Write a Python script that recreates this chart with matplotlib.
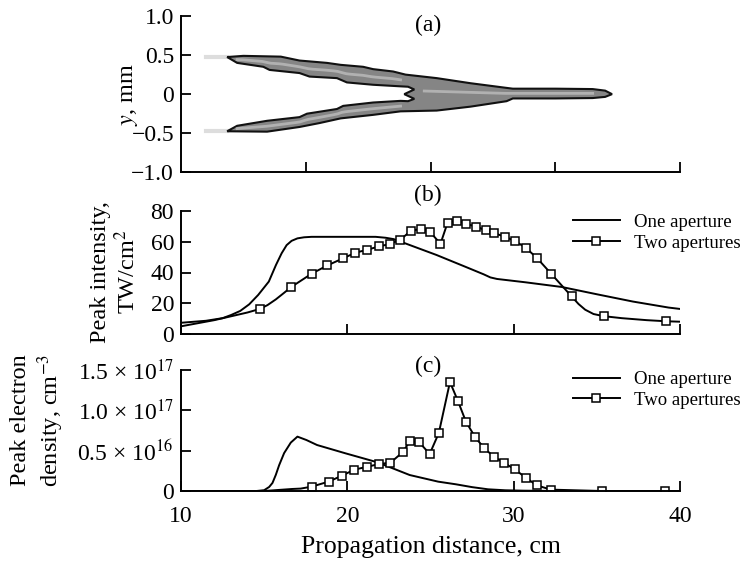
import numpy as np
import matplotlib
matplotlib.use("Agg")
import matplotlib.pyplot as plt

plt.rcParams["font.family"] = ["Liberation Serif", "DejaVu Serif"]
plt.rcParams["mathtext.fontset"] = "stix"
plt.rcParams["axes.linewidth"] = 1.4

# =========================
# Data
# =========================
# (b) peak intensity, TW/cm^2
one_b_x = [10, 11.5, 12.5, 13.0, 13.56, 14.1, 14.64, 15.28, 15.71, 16.05, 16.35,
           16.65, 17.0, 17.4, 17.85, 21.7, 22.3, 22.79, 23.22, 25.36, 27.08,
           28.2, 28.6, 29.0, 30.73, 32.88, 35.02, 37.17, 39.31, 40]
one_b_y = [7.3, 8.6, 10.3, 12.3, 15.0, 19.3, 25.4, 34.1, 44.9, 52.5, 57.8,
           60.6, 62.2, 62.9, 63.2, 63.2, 62.6, 61.7, 60.0, 51.4, 43.8,
           38.8, 36.8, 35.8, 33.6, 30.6, 25.8, 21.1, 17.2, 16.3]

two_b_x = [10, 11, 12, 13, 14, 14.74, 15.2, 15.7, 16.2, 16.63, 17.85, 18.80, 19.74,
           20.49, 21.20, 21.91, 22.55, 23.18, 23.82, 24.44, 24.98, 25.60, 26.03,
           26.59, 27.12, 27.73, 28.33, 28.84, 29.48, 30.09, 30.73, 31.42, 32.27,
           33.48, 33.9, 34.3, 34.8, 35.41, 36.5, 38.0, 39.14, 40]
two_b_y = [5.0, 7.0, 9.0, 11.5, 14.0, 16.3, 18.8, 22.5, 26.8, 30.6, 39.2, 44.6, 49.2,
           52.9, 54.8, 57.0, 58.5, 61.3, 67.1, 68.4, 66.3, 58.7, 72.5,
           73.8, 71.7, 69.9, 67.4, 65.6, 63.2, 60.4, 56.1, 49.2, 39.0,
           24.5, 19.5, 15.8, 13.0, 11.6, 10.3, 9.0, 8.3, 8.0]
two_b_marks = [5] + list(range(9, 34)) + [37, 40]

# (c) peak electron density, 1e17 cm^-3
one_c_x = [10, 14.54, 15.0, 15.3, 15.5, 15.7, 15.9, 16.2, 16.6, 17.0, 17.54, 18.18,
           19.89, 21.82, 23.75, 25.46, 26.53, 27.5, 28.46, 29.5, 30.6, 32.7, 40]
one_c_y = [0, 0, 0.01, 0.05, 0.10, 0.20, 0.32, 0.47, 0.60, 0.674, 0.632, 0.57,
           0.467, 0.355, 0.198, 0.116, 0.083, 0.048, 0.021, 0.009, 0.004, 0, 0]

two_c_x = [10, 15.0, 15.8, 16.68, 17.2, 17.86, 18.87, 19.68, 20.41, 21.18, 21.93,
           22.59, 23.32, 23.77, 24.33, 24.95, 25.50, 26.17, 26.64, 27.13, 27.69,
           28.24, 28.80, 29.44, 30.06, 30.73, 31.39, 32.23, 35.31, 39.12, 40]
two_c_y = [0, 0, 0.012, 0.025, 0.03, 0.054, 0.116, 0.19, 0.264, 0.30, 0.335,
           0.351, 0.479, 0.62, 0.603, 0.459, 0.719, 1.351, 1.12, 0.86, 0.665,
           0.529, 0.426, 0.347, 0.269, 0.165, 0.070, 0.017, 0.0, 0.0, 0.0]
two_c_marks = list(range(5, 30))

# (a) filament outline (longitudinal coordinate in axis units 0..4, y in mm)
upper_outer_u = [0.37, 0.50, 0.80, 0.95, 1.17, 1.28, 1.46, 1.54, 1.70, 1.80, 2.05,
                 2.32, 2.61, 2.66, 3.00, 3.30, 3.40, 3.455]
upper_outer_y = [0.475, 0.49, 0.48, 0.43, 0.40, 0.375, 0.35, 0.32, 0.29, 0.25, 0.205,
                 0.14, 0.08, 0.07, 0.07, 0.065, 0.045, 0.0]
lower_outer_u = [0.37, 0.69, 0.95, 1.11, 1.28, 1.54, 1.76, 2.05, 2.32, 2.61, 2.66,
                 3.00, 3.30, 3.40, 3.455]
lower_outer_y = [-0.475, -0.48, -0.42, -0.37, -0.31, -0.265, -0.22, -0.21, -0.16,
                 -0.09, -0.055, -0.055, -0.05, -0.035, 0.0]
inner_u = [0.37, 0.45, 0.66, 0.71, 0.95, 1.03, 1.25, 1.33, 1.54, 1.76, 1.82, 1.87,
           1.83, 1.79, 1.83, 1.87, 1.82, 1.76, 1.54, 1.30, 1.25, 1.01, 0.95, 0.69,
           0.45, 0.37]
inner_y = [0.475, 0.40, 0.35, 0.31, 0.27, 0.225, 0.205, 0.15, 0.12, 0.10, 0.095,
           0.06, 0.03, 0.0, -0.03, -0.06, -0.09, -0.086, -0.107, -0.15, -0.19,
           -0.25, -0.294, -0.341, -0.405, -0.475]

# =========================
# Figure
# =========================
fig = plt.figure(figsize=(7.44, 5.61), dpi=100)
W, H = 744.0, 561.0

def px_axes(left, top, right, bottom):
    return fig.add_axes([left / W, 1 - bottom / H, (right - left) / W, (bottom - top) / H])

ax_a = px_axes(181, 16, 680, 172.3)
ax_b = px_axes(181, 211, 680, 334)
ax_c = px_axes(181, 370, 680, 491)

for ax in (ax_a, ax_b, ax_c):
    ax.spines["top"].set_visible(False)
    ax.spines["right"].set_visible(False)
    ax.tick_params(direction="in", length=7, width=1.3, labelsize=17, pad=5)
    ax.patch.set_alpha(0)

# ---- (a) ----
poly_u = upper_outer_u + lower_outer_u[::-1][1:] + inner_u[::-1][1:]
poly_y = upper_outer_y + lower_outer_y[::-1][1:] + inner_y[::-1][1:]
ax_a.fill(poly_u, poly_y, facecolor="#858585", edgecolor="#111111", linewidth=1.5,
          zorder=2)
# lighter core of each branch
uu = np.linspace(0.45, 1.76, 40)
up_mid = (np.interp(uu, upper_outer_u, upper_outer_y) +
          np.interp(uu, inner_u[:10], inner_y[:10])) / 2
lo_mid = (np.interp(uu, lower_outer_u, lower_outer_y) +
          np.interp(uu, inner_u[::-1][:10], inner_y[::-1][:10])) / 2
ax_a.plot(uu, up_mid, color="#bdbdbd", lw=2.0, alpha=0.8, zorder=3)
ax_a.plot(uu, lo_mid, color="#bdbdbd", lw=2.0, alpha=0.8, zorder=3)
ax_a.plot([1.95, 2.6, 3.3], [0.04, 0.01, 0.01], color="#bdbdbd", lw=2.0, alpha=0.8,
          zorder=3)
ax_a.plot([0.2, 0.37], [0.475, 0.475], color="#dddddd", lw=3, zorder=1)
ax_a.plot([0.2, 0.37], [-0.475, -0.475], color="#dddddd", lw=3, zorder=1)
ax_a.set_xlim(0, 4)
ax_a.set_ylim(-1, 1)
ax_a.set_xticks([1, 2, 3, 4])
ax_a.set_xticklabels([])
ax_a.set_yticks([-1, -0.5, 0, 0.5, 1])
ax_a.set_yticklabels(["\u22121.0", "\u22120.5", "0", "0.5", "1.0"])

# ---- (b) ----
ax_b.plot(one_b_x, one_b_y, color="black", lw=1.4, label="One aperture")
ax_b.plot(two_b_x, two_b_y, color="black", lw=1.4, marker="s", markersize=6.3,
          markerfacecolor="white", markeredgewidth=1.1, markevery=two_b_marks,
          label="Two apertures")
ax_b.set_xlim(10, 40)
ax_b.set_ylim(0, 80)
ax_b.set_xticks([10, 20, 30, 40])
ax_b.set_xticklabels([])
ax_b.set_yticks([0, 20, 40, 60, 80])

# ---- (c) ----
ax_c.plot(one_c_x, np.array(one_c_y) * 1e17, color="black", lw=1.4, label="One aperture")
ax_c.plot(two_c_x, np.array(two_c_y) * 1e17, color="black", lw=1.4, marker="s",
          markersize=6.3, markerfacecolor="white", markeredgewidth=1.1,
          markevery=two_c_marks, label="Two apertures")
ax_c.set_xlim(10, 40)
ax_c.set_ylim(0, 1.5e17)
ax_c.set_xticks([10, 20, 30, 40])
ax_c.set_yticks([0, 0.5e17, 1.0e17, 1.5e17])
ax_c.set_yticklabels(["0", "0.5 \u00d7 10$^{16}$", "1.0 \u00d7 10$^{17}$",
                      "1.5 \u00d7 10$^{17}$"])
ax_c.tick_params(axis="x", pad=10.5)
ax_c.set_xlabel("Propagation distance, cm", fontsize=18.5, labelpad=7)

# legends
for ax, yc in ((ax_b, 232.5), (ax_c, 390)):
    ax.legend(loc="center left", bbox_to_anchor=(573 / W, 1 - yc / H),
              bbox_transform=fig.transFigure, frameon=False, fontsize=13.5,
              handlelength=2.5, handletextpad=0.75, labelspacing=0.2,
              borderpad=0, borderaxespad=0)

# panel labels
fig.text(428 / W, 1 - 25 / H, "(a)", ha="center", va="center", fontsize=17)
fig.text(428 / W, 1 - 195 / H, "(b)", ha="center", va="center", fontsize=17)
fig.text(428 / W, 1 - 366 / H, "(c)", ha="center", va="center", fontsize=17)

# y labels
fig.text(130 / W, 1 - 95 / H, "$y$, mm", rotation=90, ha="center", va="center",
         fontsize=17.5)
fig.text(115 / W, 1 - 272 / H, "Peak intensity,\nTW/cm$^2$", rotation=90,
         ha="center", va="center", fontsize=17.5, linespacing=1.15)
fig.text(38 / W, 1 - 420 / H, "Peak electron\ndensity, cm$^{-3}$", rotation=90,
         ha="center", va="center", fontsize=17.5, linespacing=1.15)

fig.savefig("out.png", dpi=100)
